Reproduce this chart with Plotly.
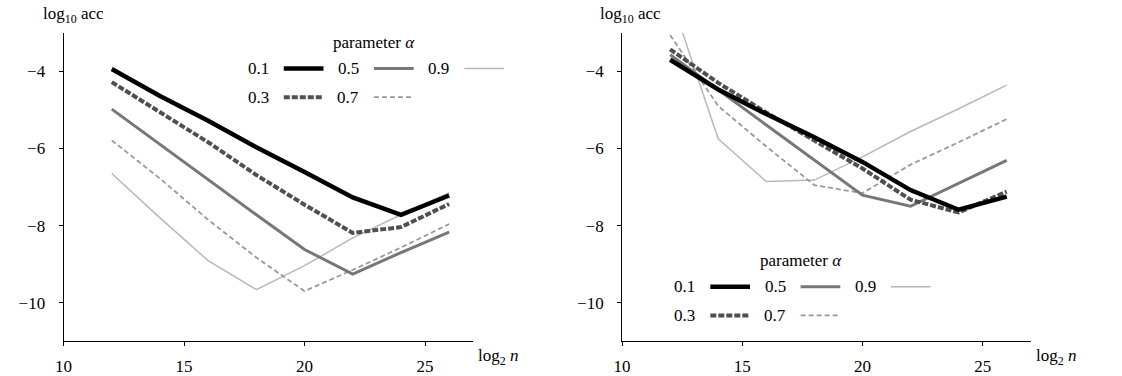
import plotly.graph_objects as go

W, H = 1122, 376

x_log2n = [12, 14, 16, 18, 20, 22, 24, 26]
alphas = ["0.1", "0.3", "0.5", "0.7", "0.9"]

# left panel: log10 acc
left_01 = [-3.94, -4.64, -5.28, -5.97, -6.61, -7.27, -7.72, -7.22]
left_03 = [-4.28, -5.07, -5.84, -6.69, -7.46, -8.19, -8.04, -7.44]
left_05 = [-4.98, -5.90, -6.82, -7.72, -8.62, -9.26, -8.70, -8.17]
left_07 = [-5.79, -6.78, -7.85, -8.83, -9.70, -9.15, -8.57, -7.96]
left_09 = [-6.65, -7.80, -8.91, -9.66, -9.04, -8.32, -7.72, -7.15]

# right panel: log10 acc
right_01 = [-3.70, -4.47, -5.11, -5.71, -6.35, -7.08, -7.59, -7.25]
right_03 = [-3.43, -4.30, -5.07, -5.79, -6.52, -7.33, -7.66, -7.12]
right_05 = [-3.57, -4.48, -5.39, -6.30, -7.21, -7.50, -6.91, -6.31]
right_07 = [-3.06, -4.90, -5.95, -6.95, -7.16, -6.42, -5.84, -5.24]
right_09 = [-2.04, -5.75, -6.86, -6.82, -6.22, -5.56, -4.97, -4.36]

x_ticks = [10, 15, 20, 25]
y_ticks = [-4, -6, -8, -10]

styles = {
    "0.1": dict(color="#000000", width=4.5, dash="solid"),
    "0.3": dict(color="#505050", width=4, dash="6px,2px"),
    "0.5": dict(color="#777777", width=3, dash="solid"),
    "0.7": dict(color="#999999", width=1.8, dash="5px,3px"),
    "0.9": dict(color="#b8b8b8", width=1.5, dash="solid"),
}

FONT = "Liberation Serif"
FS = 17

fig = go.Figure()
left_series = [left_01, left_03, left_05, left_07, left_09]
right_series = [right_01, right_03, right_05, right_07, right_09]
order = [4, 3, 2, 1, 0]
for i in order:
    a = alphas[i]
    fig.add_trace(go.Scatter(x=x_log2n, y=left_series[i], mode="lines", line=styles[a],
                             xaxis="x", yaxis="y", showlegend=False, name=a))
for i in order:
    a = alphas[i]
    fig.add_trace(go.Scatter(x=x_log2n, y=right_series[i], mode="lines", line=styles[a],
                             xaxis="x2", yaxis="y2", showlegend=False, name=a))

def px(xp):
    return xp / W

def py(yp):
    return 1 - yp / H

axis_common = dict(showgrid=False, zeroline=False, showline=True, linecolor="black",
                   linewidth=1, ticks="outside", ticklen=4, tickcolor="black", tickwidth=1,
                   tickfont=dict(family=FONT, size=FS, color="black"))

ydom = [py(344), py(33)]
fig.update_layout(
    width=W, height=H,
    margin=dict(l=0, r=0, t=0, b=0),
    font=dict(family=FONT, size=FS, color="black"),
    plot_bgcolor="white", paper_bgcolor="white",
    xaxis=dict(domain=[px(55), px(468)], range=[10, 27], tickvals=x_ticks, anchor="y", **axis_common),
    yaxis=dict(domain=ydom, range=[-11, -3], tickvals=y_ticks, anchor="x", **axis_common),
    xaxis2=dict(domain=[px(618), px(1030)], range=[10, 27], tickvals=x_ticks, anchor="y2", **axis_common),
    yaxis2=dict(domain=ydom, range=[-11, -3], tickvals=y_ticks, anchor="x2", **axis_common),
)
fig.update_xaxes(ticklabelstandoff=5)
fig.update_yaxes(ticklabelstandoff=10)

annotations = []
shapes = []
for ax_x, xl_x in [(65, 493), (627, 1055)]:
    annotations.append(dict(x=px(ax_x), y=py(15), xref="paper", yref="paper",
                            text="log<sub>10</sub> acc", showarrow=False,
                            font=dict(family=FONT, size=FS, color="black"),
                            xanchor="center", yanchor="middle"))
    annotations.append(dict(x=px(xl_x), y=py(360), xref="paper", yref="paper",
                            text="log<sub>2</sub> <i>n</i>", showarrow=False,
                            font=dict(family=FONT, size=FS, color="black"),
                            xanchor="center", yanchor="middle"))

legend_layout = [("0.1", 0, 0), ("0.5", 1, 0), ("0.9", 2, 0), ("0.3", 0, 1), ("0.7", 1, 1)]
col_dx = [0, 91, 182]
for ox, oy in [(0, 0), (430, 220)]:
    annotations.append(dict(x=px(368 + ox), y=py(43 + oy), xref="paper", yref="paper",
                            text="parameter <i>α</i>", showarrow=False,
                            font=dict(family=FONT, size=FS, color="black"),
                            xanchor="center", yanchor="middle"))
    for a, c, r in legend_layout:
        yy = 69 + oy + r * 29
        x0 = 277 + ox + col_dx[c]
        annotations.append(dict(x=px(x0 - 13), y=py(yy), xref="paper", yref="paper",
                                text=a, showarrow=False,
                                font=dict(family=FONT, size=FS, color="black"),
                                xanchor="right", yanchor="middle"))
        st = styles[a]
        shapes.append(dict(type="line", xref="paper", yref="paper",
                           x0=px(x0), x1=px(x0 + 40), y0=py(yy), y1=py(yy),
                           line=dict(color=st["color"], width=st["width"], dash=st["dash"])))

fig.update_layout(annotations=annotations, shapes=shapes)
fig.write_html("out.html", config={"displayModeBar": False},
               post_script="document.body.style.margin='0';document.body.style.padding='0';")
